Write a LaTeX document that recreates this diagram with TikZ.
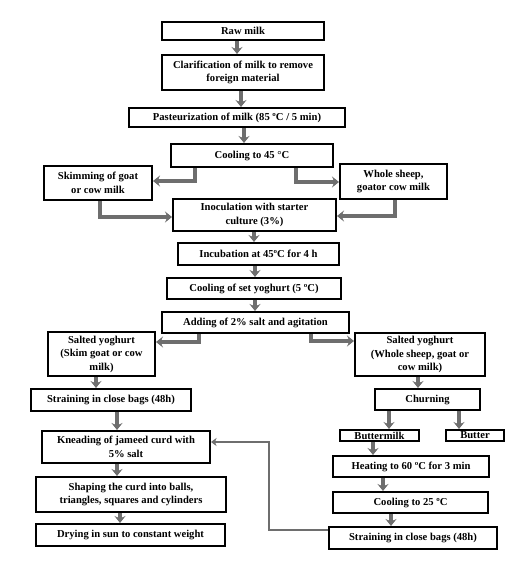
\documentclass[tikz,border=0pt]{standalone}
\usepackage{fontspec}
\setmainfont{Liberation Serif}
\usetikzlibrary{arrows.meta}
\definecolor{arrgray}{HTML}{6E6E6E}
\tikzset{
  box/.style={draw=black,line width=2pt,inner sep=0pt,align=center,
    font=\fontsize{10.6}{13.5}\selectfont\bfseries},
  arr/.style={draw=arrgray,line width=3.4pt,-{Stealth[length=7pt,width=11pt,inset=2.5pt]}},
  thinarr/.style={draw=arrgray,line width=2.2pt,-{Stealth[length=5.5pt,width=8pt,inset=1.5pt]}}
}
\newcommand\bx[6]{\node[box,minimum width={#4-#2},minimum height={#5-#3}] (#1) at ({(#2+#4)/2},{(#3+#5)/2}) {#6};}
\begin{document}
\begin{tikzpicture}[x=1pt,y=-1pt]
\useasboundingbox[fill=white] (0,0) rectangle (520,566);
\bx{raw}{162}{22}{324}{40}{Raw milk}
\bx{clar}{162}{55}{324}{90}{Clarification of milk to remove\\foreign material}
\bx{past}{129}{108}{345}{127}{Pasteurization of milk (85 ºC / 5 min)}
\bx{cool}{171}{144}{333}{167}{Cooling to 45 °C}
\bx{skim}{44}{166}{152}{200}{Skimming of goat\\or cow milk}
\bx{whole}{340}{164}{447}{199}{Whole sheep,\\goator cow milk}
\bx{inoc}{173}{199}{336}{231}{Inoculation with starter\\culture (3\%)}
\bx{incub}{178}{243}{339}{265}{Incubation at 45ºC for 4 h}
\bx{coolset}{167}{278}{341}{299}{Cooling of set yoghurt (5 ºC)}
\bx{add}{162}{312}{349}{333}{Adding of 2\% salt and agitation}
\bx{saltL}{48}{332}{155}{376}{Salted yoghurt\\(Skim goat or cow\\milk)}
\bx{saltR}{355}{333}{485}{376}{Salted yoghurt\\(Whole sheep, goat or\\cow milk)}
\bx{strL}{31}{389}{191}{411}{Straining in close bags (48h)}
\bx{churn}{375}{389}{480}{410}{Churning}
\bx{bmilk}{340}{430}{419}{441}{Buttermilk}
\bx{butter}{446}{430}{504}{441}{Butter}
\bx{knead}{42}{431}{210}{463}{Kneading of jameed curd with\\5\% salt}
\bx{shape}{36}{477}{226}{512}{Shaping the curd into balls,\\triangles, squares and cylinders}
\bx{dry}{36}{524}{225}{546}{Drying in sun to constant weight}
\bx{heat}{333}{456}{489}{477}{Heating to 60 ºC for 3 min}
\bx{cool25}{333}{492}{488}{513}{Cooling to 25 ºC}
\bx{strR}{329}{527}{497}{549}{Straining in close bags (48h)}
% straight down arrows
\draw[arr] (raw.south -| 237,0) -- (clar.north -| 237,0);
\draw[arr] (clar.south -| 241,0) -- (past.north -| 241,0);
\draw[arr] (past.south -| 244,0) -- (cool.north -| 244,0);
\draw[arr] (inoc.south -| 254,0) -- (incub.north -| 254,0);
\draw[arr] (incub.south -| 255,0) -- (coolset.north -| 255,0);
\draw[arr] (coolset.south -| 255,0) -- (add.north -| 255,0);
\draw[arr] (saltL.south -| 96,0) -- (strL.north -| 96,0);
\draw[arr] (strL.south -| 117,0) -- (knead.north -| 117,0);
\draw[arr] (knead.south -| 117,0) -- (shape.north -| 117,0);
\draw[arr] (shape.south -| 120,0) -- (dry.north -| 120,0);
\draw[arr] (saltR.south -| 418,0) -- (churn.north -| 418,0);
\draw[arr] (churn.south -| 389,0) -- (bmilk.north -| 389,0);
\draw[arr] (churn.south -| 459,0) -- (butter.north -| 459,0);
\draw[arr] (bmilk.south -| 373,0) -- (heat.north -| 373,0);
\draw[arr] (heat.south -| 383,0) -- (cool25.north -| 383,0);
\draw[arr] (cool25.south -| 391,0) -- (strR.north -| 391,0);
% elbow arrows
\draw[arr] (cool.south -| 195,0) |- (skim.east |- 0,181);
\draw[arr] (cool.south -| 296,0) |- (whole.west |- 0,182);
\draw[arr] (skim.south -| 100,0) |- (inoc.west |- 0,217);
\draw[arr] (whole.south -| 395,0) |- (inoc.east |- 0,216);
\draw[arr] (add.south -| 199,0) |- (saltL.east |- 0,342);
\draw[arr] (add.south -| 311,0) |- (saltR.west |- 0,341);
\draw[thinarr] (strR.west |- 0,530) -| (269,490) |- (knead.east |- 0,442);
\end{tikzpicture}
\end{document}
